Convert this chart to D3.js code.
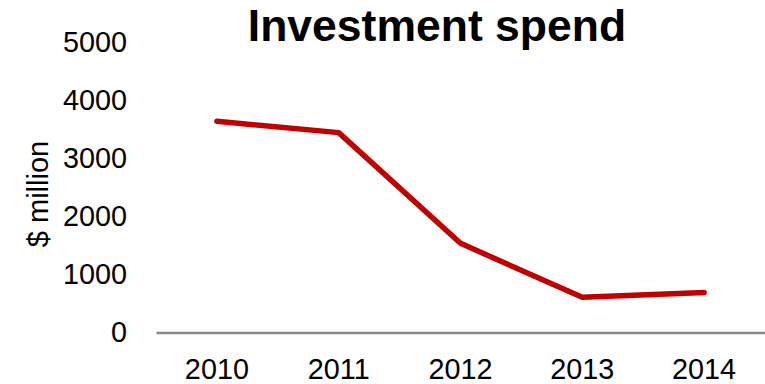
<!DOCTYPE html>
<html>
<head>
<meta charset="utf-8">
<script src="https://cdn.jsdelivr.net/npm/d3@7"></script>
<style>
  html, body { margin: 0; padding: 0; background: #fff; }
  svg { display: block; font-family: "Liberation Sans", Arial, sans-serif; }
</style>
</head>
<body>
<svg id="chart" width="765" height="384"></svg>
<script>
// Investment spend by year, $ million
const years = ["2010", "2011", "2012", "2013", "2014"];
const spend = [3635, 3440, 1535, 605, 690];
const yTicks = [0, 1000, 2000, 3000, 4000, 5000];
const titleText = "Investment spend";
const yAxisTitle = "$ million";

const svg = d3.select("#chart");

const x = d3.scaleBand().domain(years).range([156, 765]);
const y = d3.scaleLinear().domain([0, 5000]).range([332.5, 42]);

// Title
svg.append("text")
  .attr("x", 437).attr("y", 41)
  .attr("text-anchor", "middle")
  .attr("font-size", 44.5).attr("font-weight", "bold")
  .attr("fill", "#000")
  .text(titleText);

// Y axis (labels only, no line)
const yAxis = d3.axisLeft(y).tickValues(yTicks).tickSize(0).tickPadding(0).tickFormat(d3.format("d"));
const gy = svg.append("g").attr("transform", "translate(127,0)").call(yAxis);
gy.select(".domain").remove();
gy.selectAll("text").attr("font-size", 28.8).attr("fill", "#000")
  .attr("font-family", "Liberation Sans, Arial, sans-serif");

// Y axis title
svg.append("text")
  .attr("transform", "translate(48,194) rotate(-90)")
  .attr("text-anchor", "middle")
  .attr("font-size", 29).attr("fill", "#000")
  .text(yAxisTitle);

// X axis: baseline at zero, category labels below
const xAxis = d3.axisBottom(x).tickSize(0).tickPadding(0);
const gx = svg.append("g").attr("transform", `translate(0,${y(0)})`).call(xAxis);
gx.select(".domain").attr("stroke", "#898989").attr("stroke-width", 2.5);
gx.selectAll("text").attr("font-size", 28.8).attr("fill", "#000")
  .attr("font-family", "Liberation Sans, Arial, sans-serif")
  .attr("dy", null).attr("y", 0)
  .attr("transform", "translate(0,46.5)");

// Spend line
const line = d3.line()
  .x((d, i) => x(years[i]) + x.bandwidth() / 2)
  .y(d => y(d));

svg.append("path")
  .datum(spend)
  .attr("d", line)
  .attr("fill", "none")
  .attr("stroke", "#C00000")
  .attr("stroke-width", 5.5)
  .attr("stroke-linejoin", "round")
  .attr("stroke-linecap", "round");
</script>
</body>
</html>
